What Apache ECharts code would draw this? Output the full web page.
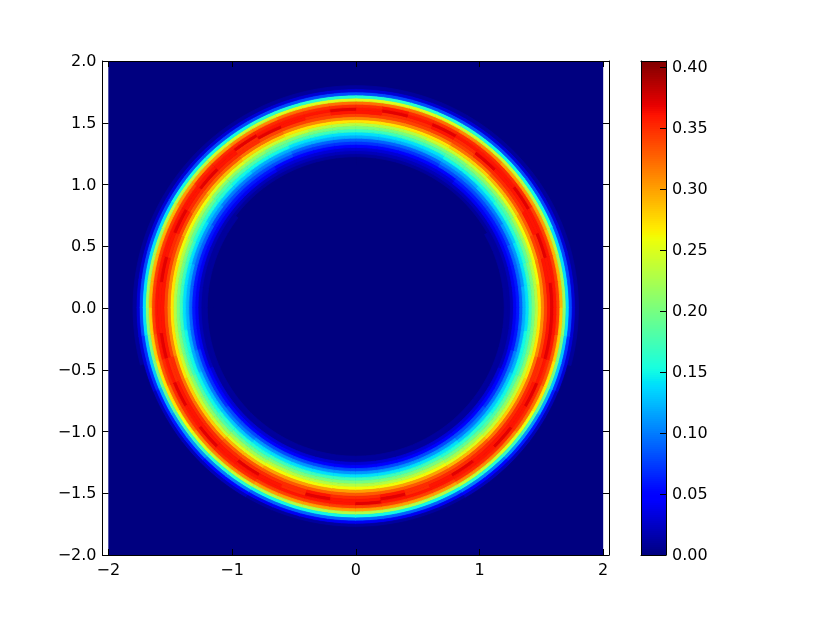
<!DOCTYPE html>
<html>
<head>
<meta charset="utf-8">
<script src="https://cdn.jsdelivr.net/npm/echarts@6/dist/echarts.min.js"></script>
<style>
	html, body { margin: 0; padding: 0; background: #fff; }
	#main { width: 817px; height: 617px; }
</style>
</head>
<body>
<div id="main"></div>
<script>
// ticks
const xTicks = [-2, -1, 0, 1, 2];
const yTicks = [-2, -1.5, -1, -0.5, 0, 0.5, 1, 1.5, 2];
const colorTicks = [0, 0.05, 0.1, 0.15, 0.2, 0.25, 0.3, 0.35, 0.4];
const imageExtent = [-2, 2];

const radiusEdges = [1.15, 1.175, 1.2, 1.225, 1.25, 1.275, 1.3, 1.325, 1.35, 1.375, 1.4, 1.425, 1.45,
	1.475, 1.5, 1.525, 1.55, 1.575, 1.6, 1.625, 1.65, 1.675, 1.7, 1.725, 1.75, 1.775, 1.8];

// density x 100, one row per 7.5 degree sector, counter clockwise from +x
const densityQ1 = [
	[0,0,1,1,2,4,6,9,12,14,17,20,23,27,31,34,36,37,36,34,29,22,14,8,3,1],
	[0,0,1,1,2,4,6,9,11,14,17,20,23,26,31,34,36,36,36,34,29,22,14,8,3,1],
	[0,0,1,1,2,4,6,9,11,14,16,19,22,26,30,34,35,37,36,34,29,23,14,8,3,1],
	[0,0,1,1,2,4,6,8,11,13,16,19,22,26,30,33,36,36,36,34,30,23,15,8,3,1],
	[0,0,0,1,2,4,6,8,10,13,16,18,21,25,29,33,35,36,37,35,30,23,15,8,3,1],
	[0,0,0,1,2,4,6,8,10,13,15,18,21,25,29,33,35,36,36,35,30,24,15,8,3,1],
	[0,0,0,1,2,4,6,8,10,12,15,18,21,24,28,32,35,37,36,35,31,24,15,8,3,1],
	[0,0,0,1,2,3,5,8,10,12,15,18,20,24,28,32,34,35,36,35,31,24,16,8,3,1],
	[0,0,0,1,2,3,5,7,9,12,14,17,20,24,27,31,34,36,37,35,32,25,16,8,3,1],
	[0,0,0,1,2,3,5,7,9,12,14,17,20,23,27,31,34,35,36,35,32,25,16,8,3,1],
	[0,0,0,1,2,3,5,7,9,12,14,17,20,23,27,31,34,35,37,36,32,25,16,8,3,1],
	[0,0,0,1,2,3,5,7,9,12,14,17,20,23,27,31,34,36,36,35,32,25,16,8,3,1]
];
const densityQ2 = [
	[0,0,0,1,2,3,5,7,9,12,14,17,20,23,27,31,34,36,37,35,32,25,16,8,3,1],
	[0,0,0,1,2,3,5,7,9,12,14,17,20,23,27,31,34,35,36,35,32,25,16,8,3,1],
	[0,0,0,1,2,3,5,7,9,12,14,17,20,24,27,31,34,36,36,35,32,25,16,8,3,1],
	[0,0,0,1,2,3,5,8,10,12,15,18,20,24,28,32,34,37,36,35,31,24,16,8,3,1],
	[0,0,0,1,2,4,6,8,10,12,15,18,21,24,28,32,35,35,37,35,31,24,15,8,3,1],
	[0,0,0,1,2,4,6,8,10,13,15,18,21,25,29,33,35,36,36,35,30,24,15,8,3,1],
	[0,0,0,1,2,4,6,8,10,13,16,18,21,25,29,33,35,37,36,35,30,23,15,8,3,1],
	[0,0,1,1,2,4,6,8,11,13,16,19,22,26,30,33,35,36,36,34,30,23,15,8,3,1],
	[0,0,1,1,2,4,6,9,11,14,16,19,22,26,30,34,36,37,36,34,29,23,14,8,3,1],
	[0,0,1,1,2,4,6,9,11,14,17,20,23,26,31,34,35,36,36,34,29,22,14,8,3,1],
	[0,0,1,1,2,4,6,9,12,14,17,20,23,27,31,34,36,37,36,34,29,22,14,8,3,1],
	[0,0,1,1,2,4,6,9,12,14,17,20,23,27,31,34,36,36,36,34,29,22,14,8,3,1]
];
const densityQ3 = [
	[0,0,1,1,2,4,6,9,12,14,17,20,23,27,31,34,36,36,36,34,28,21,14,8,3,1],
	[0,0,1,1,2,4,6,9,12,15,17,20,23,27,31,34,36,37,36,33,28,20,13,7,3,1],
	[0,0,1,1,2,4,7,10,12,15,17,20,24,27,32,35,35,36,35,33,27,20,13,7,3,0],
	[0,0,1,1,3,5,7,10,13,15,18,21,24,28,32,35,36,37,35,32,27,19,12,6,2,0],
	[0,0,1,1,3,5,7,10,13,15,18,21,24,28,32,35,36,36,35,32,26,18,11,6,2,0],
	[0,0,1,1,3,5,8,10,13,16,18,21,24,28,32,35,36,37,35,31,25,17,11,6,2,0],
	[0,0,1,1,3,5,8,10,13,16,19,22,25,29,33,35,36,36,35,31,24,16,10,5,2,0],
	[0,0,1,1,3,5,8,11,14,16,19,22,25,29,33,35,37,36,35,31,24,16,10,5,2,0],
	[0,0,1,1,3,5,8,11,14,17,20,23,26,30,33,35,36,36,34,30,23,15,9,4,1,0],
	[0,0,1,1,3,5,8,11,14,17,20,23,26,30,33,35,35,36,34,30,23,15,9,4,1,0],
	[0,0,1,1,3,5,8,11,14,17,20,23,26,30,33,36,37,36,34,30,23,15,9,4,1,0],
	[0,0,1,1,3,5,8,11,14,17,20,23,26,30,33,35,36,36,34,30,23,15,9,4,1,0]
];
const densityQ4 = [
	[0,0,1,1,3,5,8,11,14,17,20,23,26,30,33,35,36,37,34,30,23,15,9,4,1,0],
	[0,0,1,1,3,5,8,11,14,17,20,23,26,30,33,36,37,36,34,30,23,15,9,4,1,0],
	[0,0,1,1,3,5,8,11,14,17,20,23,26,30,33,35,35,36,34,30,23,15,9,4,1,0],
	[0,0,1,1,3,5,8,11,14,17,20,23,26,30,33,35,36,36,34,30,23,15,9,4,1,0],
	[0,0,1,1,3,5,8,11,14,16,19,22,25,29,33,35,37,36,35,31,24,16,10,5,2,0],
	[0,0,1,1,3,5,8,10,13,16,19,22,25,29,33,35,36,36,35,31,24,16,10,5,2,0],
	[0,0,1,1,3,5,8,10,13,16,18,21,24,28,32,35,36,37,35,31,25,17,11,6,2,0],
	[0,0,1,1,3,5,7,10,13,15,18,21,24,28,32,35,36,36,35,32,26,18,11,6,2,0],
	[0,0,1,1,3,5,7,10,13,15,18,21,24,28,32,35,36,37,35,32,27,19,12,6,2,0],
	[0,0,1,1,2,4,7,10,12,15,17,20,24,27,32,35,35,36,35,33,27,20,13,7,3,0],
	[0,0,1,1,2,4,6,9,12,15,17,20,23,27,31,34,36,37,36,33,28,20,13,7,3,1],
	[0,0,1,1,2,4,6,9,12,14,17,20,23,27,31,34,36,37,36,34,28,21,14,8,3,1]
];

const sectorRows = densityQ1.concat(densityQ2, densityQ3, densityQ4);
const sectorStep = 360 / sectorRows.length;

// [theta, radius, value, sector index, radius index]
let ringData = [];
sectorRows.forEach(function (row, s) {
	row.forEach(function (v, r) {
		ringData.push([s * sectorStep, radiusEdges[r], v / 100, s, r]);
	});
});

// one level is 2px tall on the 494px colorbar
const colorMax = 0.405;
const colorSteps = 247;
let colorLevels = [];
for (let i = 0; i < colorSteps; i++) {
	colorLevels.push([0.5, colorMax * i / colorSteps, colorMax * (i + 0.5) / colorSteps]);
}

// matplotlib jet breakpoints
const jetRed = [[0, 0], [0.35, 0], [0.66, 1], [0.89, 1], [1, 0.5]];
const jetGreen = [[0, 0], [0.125, 0], [0.375, 1], [0.64, 1], [0.91, 0], [1, 0]];
const jetBlue = [[0, 0.5], [0.11, 1], [0.34, 1], [0.65, 0], [1, 0]];

function jetChannel(segments, t) {
	for (let i = 1; i < segments.length; i++) {
		if (t <= segments[i][0]) {
			let a = segments[i - 1];
			let b = segments[i];
			return Math.round(255 * (a[1] + (b[1] - a[1]) * (t - a[0]) / (b[0] - a[0])));
		}
	}
	return 0;
}

let jetColors = [];
for (let i = 0; i <= 100; i++) {
	let t = i / 100;
	jetColors.push('rgb(' + jetChannel(jetRed, t) + ',' + jetChannel(jetGreen, t) + ',' + jetChannel(jetBlue, t) + ')');
}

function polar(radius, theta) {
	let a = theta * Math.PI / 180;
	return [radius * Math.cos(a), radius * Math.sin(a)];
}

function renderCell(params, api) {
	let s = api.value(3);
	let r = api.value(4);
	let r0 = radiusEdges[r];
	let r1 = radiusEdges[r + 1];
	let inner = [];
	let outer = [];
	// a few points per sector so the arc stays round
	for (let i = 0; i <= 4; i++) {
		let t = (s + i / 4) * sectorStep;
		inner.push(polar(r0, t));
		outer.unshift(polar(r1, t));
	}
	let color = api.visual('color');
	return {
		type: 'polygon',
		shape: {
			points: inner.concat(outer).map(function (p) {
				return api.coord(p);
			})
		},
		style: { fill: color, stroke: color, lineWidth: 0.8 }
	};
}

function renderImage(params, api) {
	let p0 = api.coord([imageExtent[0], imageExtent[1]]);
	let p1 = api.coord([imageExtent[1], imageExtent[0]]);
	return {
		type: 'rect',
		shape: { x: p0[0], y: p0[1], width: p1[0] - p0[0], height: p1[1] - p0[1] },
		style: { fill: api.visual('color') }
	};
}

function renderLevel(params, api) {
	let p0 = api.coord([0, api.value(1) + colorMax / colorSteps]);
	let p1 = api.coord([1, api.value(1)]);
	return {
		type: 'rect',
		shape: { x: p0[0], y: p0[1], width: p1[0] - p0[0], height: p1[1] - p0[1] },
		style: { fill: api.visual('color') }
	};
}

const fontStyle = { color: '#000', fontFamily: 'DejaVu Sans', fontSize: 16 };
const lineStyle = { color: '#000', width: 1 };

function minus(text) {
	return String(text).replace('-', '\u2212');
}

function xAxisOf(gridIndex, position, min, max, ticks, showLabel) {
	return {
		type: 'value', gridIndex: gridIndex, position: position, min: min, max: max, z: 5,
		splitLine: { show: false },
		axisLine: { show: true, onZero: false, lineStyle: lineStyle },
		axisTick: { show: ticks.length > 0, inside: true, length: 6, customValues: ticks, lineStyle: lineStyle },
		axisLabel: Object.assign({
			show: showLabel, margin: 8, customValues: ticks,
			formatter: function (v) { return minus(v); }
		}, fontStyle)
	};
}

function yAxisOf(gridIndex, position, min, max, ticks, showLabel, digits) {
	return {
		type: 'value', gridIndex: gridIndex, position: position, min: min, max: max, z: 5,
		splitLine: { show: false },
		axisLine: { show: true, onZero: false, lineStyle: lineStyle },
		axisTick: { show: ticks.length > 0, inside: true, length: 6, customValues: ticks, lineStyle: lineStyle },
		axisLabel: Object.assign({
			show: showLabel, margin: 6, customValues: ticks,
			// rich padding nudges the text down 1px
			rich: { t: Object.assign({ padding: [2, 0, 0, 0] }, fontStyle) },
			formatter: function (v) { return '{t|' + minus(v.toFixed(digits)) + '}'; }
		}, fontStyle)
	};
}

let myChart = echarts.init(document.getElementById('main'), null, { renderer: 'canvas' });

let option = {
	animation: false,
	backgroundColor: '#fff',
	grid: [
		{ left: 102.5, top: 61, width: 506.5, height: 494 },
		{ left: 641, top: 61, width: 25, height: 494 }
	],
	xAxis: [
		xAxisOf(0, 'bottom', -2.047, 2.047, xTicks, true),
		xAxisOf(0, 'top', -2.047, 2.047, xTicks, false),
		xAxisOf(1, 'bottom', 0, 1, [], false),
		xAxisOf(1, 'top', 0, 1, [], false)
	],
	yAxis: [
		yAxisOf(0, 'left', -2, 2, yTicks, true, 1),
		yAxisOf(0, 'right', -2, 2, yTicks, false, 1),
		yAxisOf(1, 'right', 0, colorMax, colorTicks, true, 2),
		yAxisOf(1, 'left', 0, colorMax, [], false, 2)
	],
	visualMap: {
		show: false,
		type: 'continuous',
		min: 0,
		max: colorMax,
		dimension: 2,
		seriesIndex: [0, 1, 2],
		inRange: { color: jetColors }
	},
	series: [
		{
			type: 'custom', xAxisIndex: 0, yAxisIndex: 0, renderItem: renderImage,
			encode: { x: 0, y: 1 }, silent: true, z: 1, clip: false,
			data: [[0, 0, 0]]
		},
		{
			type: 'custom', xAxisIndex: 0, yAxisIndex: 0, renderItem: renderCell,
			encode: { x: 0, y: 1 }, silent: true, z: 2, clip: false,
			data: ringData
		},
		{
			type: 'custom', xAxisIndex: 2, yAxisIndex: 2, renderItem: renderLevel,
			encode: { x: 0, y: 1 }, silent: true, z: 2,
			data: colorLevels
		}
	]
};

myChart.setOption(option);
</script>
</body>
</html>
